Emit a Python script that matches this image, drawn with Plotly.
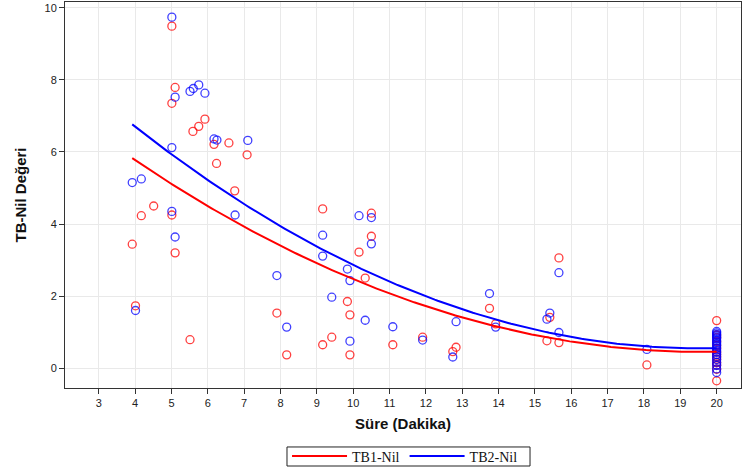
import numpy as np
import plotly.graph_objects as go

# TB1-Nil observations (Süre in minutes, value)
tb1_x = [3.92, 4.01, 4.17, 4.51, 5.01, 5.10, 5.01, 5.01, 5.10, 5.51, 5.59, 5.75, 5.92, 6.17, 6.24,
         6.58, 6.74, 7.08, 7.90, 8.17, 9.16, 9.16, 9.41, 9.84, 9.91, 9.91, 10.16, 10.33, 10.50, 10.50,
         11.09, 11.91, 12.74, 12.83, 13.75, 13.92, 15.33, 15.41, 15.66, 15.66, 18.08,
         20, 20, 20, 20, 20, 20, 20, 20, 20, 20, 20, 20, 20, 20]
tb1_y = [3.44, 1.73, 4.23, 4.50, 9.49, 7.79, 7.35, 4.25, 3.20, 0.79, 6.57, 6.71, 6.91, 6.21, 5.68,
         6.25, 4.92, 5.92, 1.53, 0.37, 4.42, 0.65, 0.86, 1.85, 1.48, 0.37, 3.22, 2.50, 4.30, 3.66,
         0.65, 0.86, 0.46, 0.58, 1.66, 1.23, 0.76, 1.41, 3.06, 0.71, 0.09,
         1.32, 0.92, 0.85, 0.74, 0.63, 0.55, 0.45, 0.38, 0.32, 0.25, 0.15, 0.08, -0.03, -0.35]

# TB2-Nil observations
tb2_x = [3.92, 4.01, 4.17, 5.01, 5.01, 5.01, 5.10, 5.10, 5.51, 5.60, 5.75, 5.92, 6.17, 6.25, 6.75,
         7.10, 7.90, 8.17, 9.16, 9.16, 9.41, 9.84, 9.91, 9.91, 10.16, 10.33, 10.50, 10.50, 11.09,
         11.91, 12.74, 12.83, 13.75, 13.92, 15.33, 15.41, 15.66, 15.66, 18.08,
         20, 20, 20, 20, 20, 20, 20, 20, 20, 20, 20, 20, 20, 20, 20, 20, 20, 20, 20, 20]
tb2_y = [5.15, 1.60, 5.25, 9.74, 6.12, 4.35, 7.52, 3.64, 7.68, 7.76, 7.86, 7.63, 6.36, 6.33, 4.25,
         6.32, 2.57, 1.14, 3.69, 3.11, 1.97, 2.75, 2.43, 0.75, 4.23, 1.33, 4.18, 3.45, 1.15,
         0.78, 0.31, 1.29, 2.07, 1.14, 1.36, 1.53, 2.65, 0.99, 0.52,
         1.02, 0.98, 0.94, 0.90, 0.86, 0.82, 0.77, 0.72, 0.67, 0.62, 0.56, 0.50, 0.44, 0.38,
         0.31, 0.24, 0.16, 0.08, -0.02, -0.12]

x_ticks = list(range(3, 21))
y_ticks = [0, 2, 4, 6, 8, 10]

RED = "rgb(255,0,0)"
BLUE = "rgb(0,0,255)"

def quad_fit(xs, ys):
    c = np.polyfit(xs, ys, 2)
    gx = np.linspace(min(xs), max(xs), 200)
    return gx, np.polyval(c, gx)

fig = go.Figure()
fig.add_trace(go.Scatter(x=tb1_x, y=tb1_y, mode="markers", showlegend=False,
                         marker=dict(symbol="circle-open", size=8, color="rgba(255,0,0,0.75)",
                                     line=dict(width=1.3))))
fig.add_trace(go.Scatter(x=tb2_x, y=tb2_y, mode="markers", showlegend=False,
                         marker=dict(symbol="circle-open", size=8, color="rgba(0,0,255,0.75)",
                                     line=dict(width=1.3))))
fx, fy = quad_fit(tb1_x, tb1_y)
fig.add_trace(go.Scatter(x=fx, y=fy, mode="lines", name="TB1-Nil", line=dict(color=RED, width=2)))
fx, fy = quad_fit(tb2_x, tb2_y)
fig.add_trace(go.Scatter(x=fx, y=fy, mode="lines", name="TB2-Nil", line=dict(color=BLUE, width=2)))

axis_common = dict(showline=True, linecolor="#333", linewidth=1, mirror=True,
                   ticks="outside", ticklen=5, tickcolor="#333", automargin=False,
                   gridcolor="#e9e9e9", gridwidth=1, zeroline=False,
                   tickfont=dict(family="Liberation Sans, Arial", size=11, color="#222"))

fig.update_layout(
    width=745, height=471,
    margin=dict(l=65, r=4, t=2, b=83, autoexpand=False),
    plot_bgcolor="white", paper_bgcolor="white",
    xaxis=dict(range=[2.07, 20.67], tickvals=x_ticks,
               title=dict(text="<b>Süre (Dakika)</b>", standoff=10,
                          font=dict(family="Liberation Sans, Arial", size=15, color="#111")),
               **axis_common),
    yaxis=dict(range=[-0.55, 10.16], tickvals=y_ticks,
               title=dict(text="<b>TB-Nil Değeri</b>", standoff=14,
                          font=dict(family="Liberation Sans, Arial", size=15, color="#111")),
               **axis_common),
    legend=dict(orientation="h", x=0.503, xanchor="center", y=-0.1775, yanchor="middle",
                borderwidth=0, bgcolor="rgba(0,0,0,0)",
                font=dict(family="Liberation Serif, Times New Roman", size=14, color="#111"),
                itemwidth=55, tracegroupgap=0),
    shapes=[dict(type="rect", xref="paper", yref="paper",
                 x0=0.3284, x1=0.6879, y0=-0.2021, y1=-0.1528,
                 line=dict(color="#222", width=1), fillcolor="rgba(0,0,0,0)", layer="below")],
)

fig.write_html("out.html", config={"displayModeBar": False},
               post_script="document.body.style.margin='0';")
